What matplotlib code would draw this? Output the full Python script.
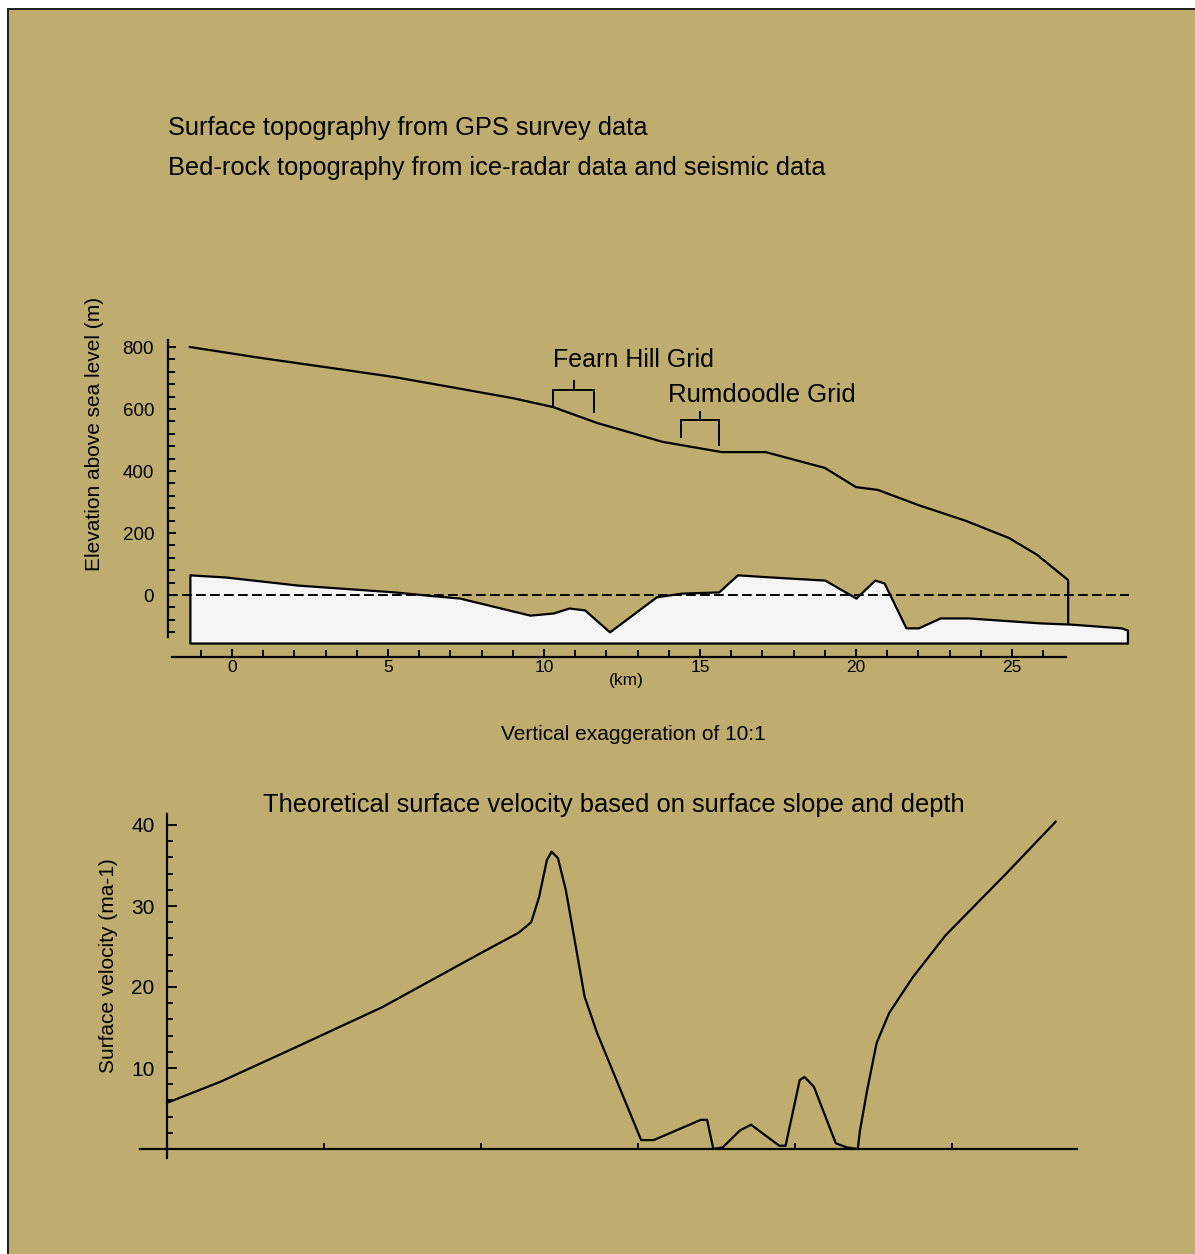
import numpy as np
import matplotlib.pyplot as plt
from matplotlib.patches import Rectangle

W, H = 1195, 1254
BG = "#bfac6f"

# ---- profile along the glacier: distance (km) / elevation (m) ----
surf_km = [-1.35, 0.9, 3.0, 5.2, 7.0, 9.0, 10.3, 11.7, 13.8, 15.7, 17.1,
           19.0, 20.0, 20.7, 22.0, 23.5, 24.9, 25.8, 26.8, 26.8]
surf_m = [800, 765, 735, 703, 671, 635, 606, 555, 494, 461, 461,
          410, 348, 339, 290, 240, 184, 130, 48, -92]

bed_km = [-1.35, -0.2, 2.1, 5.2, 6.2, 7.3, 9.55, 10.3, 10.8, 11.3, 12.1,
          13.6, 14.4, 15.6, 16.2, 17.3, 19.0, 20.0, 20.6, 20.9, 21.6,
          22.0, 22.7, 23.6, 25.9, 26.9, 28.5, 28.7]
bed_m = [65, 58, 32, 10, 0, -10, -65, -58, -42, -48, -119,
         -6, 6, 10, 65, 58, 48, -10, 48, 39, -106,
         -106, -74, -74, -90, -94, -106, -113]
bed_base = -155

# grid brackets: (left km, right km, top m, left foot m, right foot m, tick m)
fearn = (10.3, 11.6, 661, 613, 590, 690)
rumdoodle = (14.4, 15.6, 565, 510, 484, 590)

# ---- theoretical surface velocity: distance (km) / velocity (m/a) ----
vel_km = [0, 1.7, 3.9, 6.85, 10.0, 11.2, 11.6, 11.85, 12.1, 12.25, 12.45,
          12.7, 13.3, 13.7, 15.1, 15.5, 16.1, 17.0, 17.2, 17.4, 17.7,
          18.25, 18.6, 19.5, 19.7, 20.15, 20.3, 20.6, 21.3, 21.65, 22.0,
          22.07, 22.3, 22.6, 23.0, 23.75, 24.8, 26.75, 28.3]
vel_ma = [5.7, 8.3, 12.2, 17.5, 24.2, 26.7, 28.0, 31.1, 35.7, 36.7, 35.9,
          32.0, 18.8, 14.3, 1.1, 1.1, 2.1, 3.6, 3.6, 0.0, 0.2,
          2.3, 3.0, 0.4, 0.4, 8.5, 8.9, 7.7, 0.7, 0.2, 0.0,
          2.3, 7.3, 13.1, 16.8, 21.2, 26.4, 34.1, 40.4]

plt.rcParams["font.family"] = ["Liberation Sans", "DejaVu Sans"]

fig = plt.figure(figsize=(W / 100, H / 100), dpi=100, facecolor=BG)


def px_axes(l, t, r, b):
    ax = fig.add_axes([l / W, 1 - b / H, (r - l) / W, (b - t) / H])
    ax.patch.set_visible(False)
    return ax


def ftext(x, y, s, **kw):
    fig.text(x / W, 1 - y / H, s, **kw)


# white margin + dark frame line at top / left
fig.patches.append(Rectangle((0, 1 - 8 / H), 1, 8 / H, transform=fig.transFigure,
                             facecolor="white", edgecolor="none"))
fig.patches.append(Rectangle((0, 0), 7 / W, 1, transform=fig.transFigure,
                             facecolor="white", edgecolor="none"))
fig.patches.append(Rectangle((7 / W, 1 - 10 / H), 1, 2 / H, transform=fig.transFigure,
                             facecolor="#222222", edgecolor="none"))
fig.patches.append(Rectangle((7 / W, 0), 2 / W, 1 - 8 / H, transform=fig.transFigure,
                             facecolor="#222222", edgecolor="none"))

# ============ top panel: profile ============
X0, SX = 232, 31.2     # pixel of 0 km, px per km
Y0, SY = 595, 0.31     # pixel of 0 m, px per m
L, T, R, B = 150, 330, 1150, 675
ax1 = px_axes(L, T, R, B)
ax1.set_xlim((L - X0) / SX, (R - X0) / SX)
ax1.set_ylim((Y0 - B) / SY, (Y0 - T) / SY)

ax1.fill_between(bed_km, bed_m, bed_base, facecolor="#f5f5f5",
                 edgecolor="black", linewidth=1.6, zorder=2)
ax1.plot(surf_km, surf_m, color="black", lw=1.6, zorder=3)
ax1.hlines(0, (168 - X0) / SX, 28.75, colors="black", linestyles=(0, (5, 2.2)),
           lw=1.4, zorder=4)

for xl, xr, top, fl, fr, tk in (fearn, rumdoodle):
    ax1.plot([xl, xl, xr, xr], [fl, top, top, fr], color="black", lw=1.4)
    ax1.plot([(xl + xr) / 2] * 2, [top, tk], color="black", lw=1.4)
ax1.text(10.29, 758, "Fearn Hill Grid", fontsize=18, va="center", ha="left")
ax1.text(13.97, 645, "Rumdoodle Grid", fontsize=18.5, va="center", ha="left")

for s in ("top", "right"):
    ax1.spines[s].set_visible(False)
ax1.spines["left"].set_position(("data", (168 - X0) / SX))
ax1.spines["left"].set_bounds(-135, 822)
ax1.spines["bottom"].set_position(("data", (Y0 - 657) / SY))
ax1.spines["bottom"].set_bounds((172 - X0) / SX, (1066 - X0) / SX)
for s in ("left", "bottom"):
    ax1.spines[s].set_linewidth(1.6)

ax1.set_yticks([0, 200, 400, 600, 800])
ax1.set_yticks(np.arange(-120, 801, 40), minor=True)
ax1.set_xticks([0, 5, 10, 15, 20, 25])
ax1.set_xticks(np.arange(-1, 27, 1), minor=True)
ax1.tick_params(which="both", direction="in", width=1.4)
ax1.tick_params(which="major", length=6)
ax1.tick_params(which="minor", length=5)
ax1.tick_params(axis="y", which="major", labelsize=13.5, pad=10)
ax1.tick_params(axis="x", which="major", labelsize=12.5, pad=2)

ftext(95, 434, "Elevation above sea level (m)", rotation=90, fontsize=15,
      ha="center", va="center")
ftext(626, 681, "(km)", fontsize=12.5, ha="center", va="center")
ftext(633, 735, "Vertical exaggeration of 10:1", fontsize=15, ha="center", va="center")
ftext(168, 128, "Surface topography from GPS survey data", fontsize=18.3,
      ha="left", va="center")
ftext(168, 168, "Bed-rock topography from ice-radar data and seismic data", fontsize=18.3,
      ha="left", va="center")

# ============ bottom panel: velocity ============
X1, SX1 = 167, 31.4
V0, SV = 1149, 8.1
L, T, R, B = 120, 790, 1100, 1180
ax2 = px_axes(L, T, R, B)
ax2.set_xlim((L - X1) / SX1, (R - X1) / SX1)
ax2.set_ylim((V0 - B) / SV, (V0 - T) / SV)

ax2.plot(vel_km, vel_ma, color="black", lw=1.6)

for s in ("top", "right"):
    ax2.spines[s].set_visible(False)
ax2.spines["left"].set_position(("data", 0))
ax2.spines["left"].set_bounds(-1.1, 41.3)
ax2.spines["bottom"].set_position(("data", 0))
ax2.spines["bottom"].set_bounds((140 - X1) / SX1, (1077 - X1) / SX1)
for s in ("left", "bottom"):
    ax2.spines[s].set_linewidth(1.6)

ax2.set_yticks([10, 20, 30, 40])
ax2.set_yticks(np.arange(2, 41, 2), minor=True)
ax2.set_xticks([5, 10, 15, 20, 25])
ax2.set_xticklabels([])
ax2.tick_params(which="both", direction="in", width=1.3)
ax2.tick_params(axis="y", which="major", length=7, labelsize=15, pad=9)
ax2.tick_params(axis="y", which="minor", length=4)
ax2.tick_params(axis="x", which="major", length=4)

ftext(108, 966, "Surface velocity (ma-1)", rotation=90, fontsize=15,
      ha="center", va="center")
ftext(614, 805, "Theoretical surface velocity based on surface slope and depth",
      fontsize=18.4, ha="center", va="center")

fig.savefig("out.png", dpi=100, facecolor=BG)
